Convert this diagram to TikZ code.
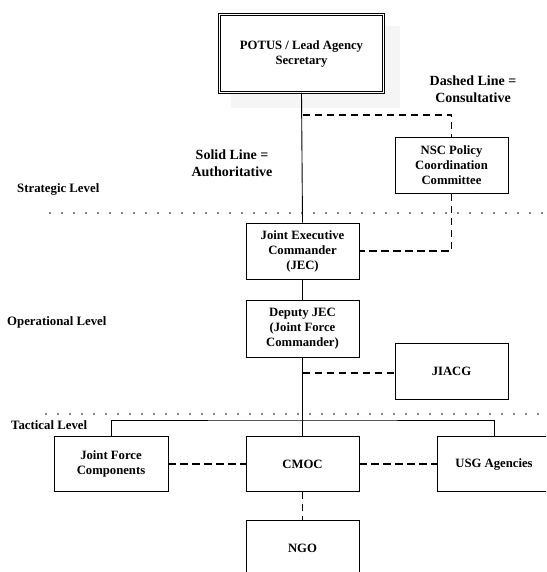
\documentclass[tikz,border=0pt]{standalone}
\usepackage{fontspec}
\setmainfont{Liberation Serif}
\definecolor{shadowgray}{HTML}{F5F5F5}
\tikzset{
  box/.style={draw, line width=0.9pt, fill=white, minimum width=113pt, minimum height=56pt,
    inner sep=0pt, align=center, font=\fontsize{12.7}{15}\selectfont\bfseries},
  lbl/.style={inner sep=0pt, align=center, font=\fontsize{14}{17}\selectfont\bfseries},
  lvl/.style={inner sep=0pt, anchor=west, font=\fontsize{12.8}{15}\selectfont\bfseries},
  solidline/.style={line width=0.9pt},
  dashline/.style={line width=1.7pt, dash pattern=on 7.5pt off 4.5pt},
  dotline/.style={line width=1.6pt, line cap=round, dash pattern=on 0pt off 12pt},
}
\begin{document}
\begin{tikzpicture}[x=1pt,y=-1pt]
\useasboundingbox (0,0) rectangle (546,572);
\clip (0,0) rectangle (546,572);
% shadow
\fill[shadowgray] (231,26) rectangle (400,108);
% dotted level lines
\draw[dotline] (50,213) -- (546,213);
\draw[dotline] (46,414) -- (546,414);
% level labels
\node[lvl] (lstrat) at (17,189) {Strategic Level};
\node[lvl] (loper) at (7,322) {Operational Level};
\node[lvl] (ltact) at (11,425) {Tactical Level};
% nodes
\node[box, minimum width=164pt, minimum height=78pt, double, double distance=1.8pt, line width=0.8pt] (potus) at (301.5,53.5) {POTUS / Lead Agency\\Secretary};
\node[box] (nsc) at (451.5,165.5) {NSC Policy\\Coordination\\Committee};
\node[box] (jec) at (302.5,251) {Joint Executive\\Commander\\(JEC)};
\node[box, minimum height=57pt] (dep) at (302.5,328.5) {Deputy JEC\\(Joint Force\\Commander)};
\node[box] (jiacg) at (451.5,371) {JIACG};
\node[box, minimum width=114pt, minimum height=55pt] (jfc) at (111,464) {Joint Force\\Components};
\node[box, minimum height=55pt] (cmoc) at (302.5,464) {CMOC};
\node[box, minimum width=114pt, minimum height=55pt] (usg) at (494,464) {USG Agencies};
\node[box] (ngo) at (302.5,548) {NGO};
% labels
\node[lbl] (solidlbl) at (232,163.5) {Solid Line =\\Authoritative};
\node[lbl] (dashlbl) at (473,89.5) {Dashed Line =\\Consultative};
% coordinates
\coordinate (d1) at (302.5,115);
\coordinate (d2) at (302.5,373);
\coordinate (t0) at (302.5,420);
% solid connectors
\draw[solidline] (potus.south) -- (jec.north);
\draw[solidline] (jec.south) -- (dep.north);
\draw[solidline] (dep.south) -- (t0);
\draw[solidline] (jfc.north) |- (t0) -| (usg.north);
\draw[solidline] (t0) -- (cmoc.north);
% dashed connectors
\draw[dashline] (d1) -| (nsc.north);
\draw[dashline] (nsc.south) |- (jec.east);
\draw[dashline] (d2) -- (jiacg.west |- d2);
\draw[dashline] (jfc.east) -- (cmoc.west);
\draw[dashline] (cmoc.east) -- (usg.west);
\draw[dashline] (cmoc.south) -- (ngo.north);
\end{tikzpicture}
\end{document}
